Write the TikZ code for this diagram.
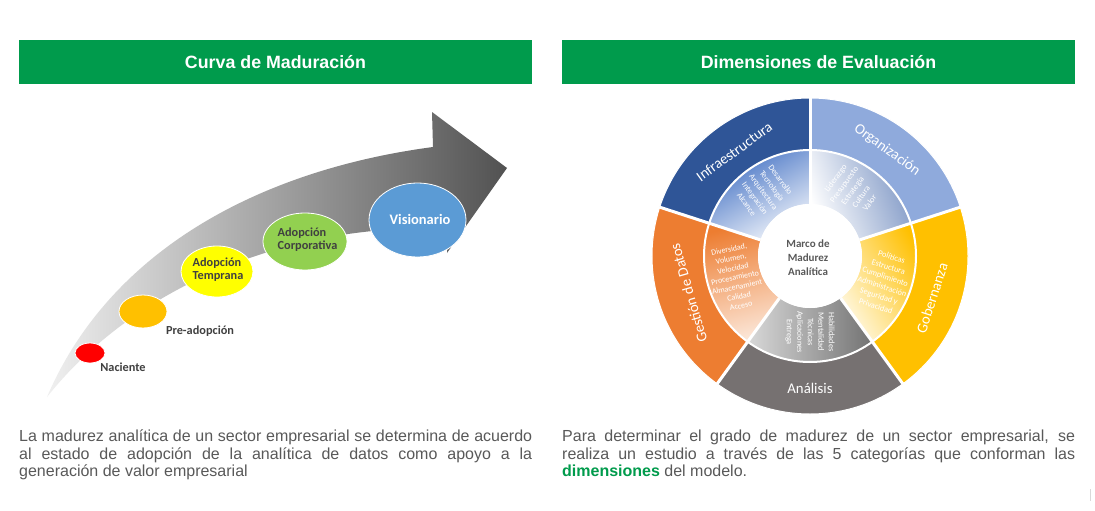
\documentclass[tikz,border=0pt]{standalone}
\usepackage{fontspec}
\setmainfont{Liberation Sans}
\newfontfamily\calibri{Carlito}
\usetikzlibrary{shapes.geometric}
\definecolor{hdrgreen}{RGB}{0,155,76}
\definecolor{txtgray}{RGB}{89,89,89}
\definecolor{lbldark}{RGB}{64,64,64}
\definecolor{infraC}{RGB}{47,85,151}
\definecolor{orgC}{RGB}{143,170,220}
\definecolor{gobC}{RGB}{255,192,0}
\definecolor{anaC}{RGB}{118,113,113}
\definecolor{gesC}{RGB}{237,125,49}
\definecolor{infraI}{RGB}{68,114,196}
\definecolor{redC}{RGB}{255,0,0}
\definecolor{yelC}{RGB}{255,255,0}
\definecolor{grnC}{RGB}{146,208,80}
\definecolor{bluC}{RGB}{91,155,213}
\tikzset{
 hdr/.style={fill=hdrgreen, text=white, font=\bfseries\fontsize{17.8}{20}\selectfont, minimum width=513, minimum height=44, inner sep=0},
 para/.style={anchor=north west, text width=513pt, align=justify, inner sep=0, text=txtgray, font=\fontsize{16}{17.5}\selectfont},
 ell/.style={ellipse, draw=white, line width=0.8pt, inner sep=0},
 stagelbl/.style={font=\calibri\bfseries\fontsize{12.3}{13}\selectfont, text=lbldark, inner sep=0, align=left},
 outerlbl/.style={font=\calibri\fontsize{14.8}{16}\selectfont, text=white, inner sep=0},
 innerlbl/.style={font=\calibri\fontsize{8.3}{10.5}\selectfont, text=white, inner sep=0, align=center},
 centerlbl/.style={font=\calibri\bfseries\fontsize{11}{14}\selectfont, text=txtgray, align=center, inner sep=0},
}
\begin{document}
\begin{tikzpicture}[x=1pt,y=1pt]
\useasboundingbox (0,0) rectangle (1095,-511);
\fill[white] (0,0) rectangle (1095,-511);

% headers
\node[hdr] (h1) at (275.5,-62) {Curva de Maduración};
\node[hdr] (h2) at (818.5,-62) {Dimensiones de Evaluación};

% curved arrow
\shade[left color=black!6, right color=black!68]
  (47,-397) .. controls (110,-250) and (260,-170) .. (433,-147)
  -- (432,-112) -- (507,-168) -- (447,-253) -- (449,-229)
  .. controls (300,-222) and (140,-280) .. (47,-397) -- cycle;

% stages
\node[ell, fill=redC, minimum width=30, minimum height=20] (eNac) at (90,-353) {};
\node[ell, fill=gobC, minimum width=48, minimum height=33] (ePre) at (143,-311.5) {};
\node[ell, fill=yelC, minimum width=72, minimum height=51] (eTem) at (217,-271.5) {};
\node[ell, fill=grnC, minimum width=84, minimum height=57] (eCor) at (305,-241.5) {};
\node[ell, fill=bluC, minimum width=97, minimum height=74] (eVis) at (417.5,-220) {};
\node[stagelbl] (tNac) at (123,-367) {Naciente};
\node[stagelbl] (tPre) at (200,-331) {Pre-adopción};
\node[stagelbl] (tTem) at (218,-269.5) {Adopción\\Temprana};
\node[stagelbl] (tCor) at (307.5,-240) {Adopción\\Corporativa};
\node[stagelbl, text=white, font=\calibri\bfseries\fontsize{14.5}{16}\selectfont] (tVis) at (420,-219) {Visionario};

% wheel
\begin{scope}[shift={(810,-256)}]
 \foreach \a/\c in {18/orgC, 90/infraC, 162/gesC, 234/anaC, 306/gobC}{
   \pgfmathsetmacro\b{\a+72}
   \fill[\c] (\a:158) arc[start angle=\a, end angle=\b, radius=158] -- (\b:106) arc[start angle=\b, end angle=\a, radius=106] -- cycle;
 }
 % inner ring with gradients
 \shade[top color=orgC!90!black, bottom color=white, shading angle=-70]
   (18:106) arc[start angle=18, end angle=90, radius=106] -- (90:52) arc[start angle=90, end angle=18, radius=52] -- cycle;
 \shade[top color=infraI, bottom color=infraI!8, shading angle=30]
   (90:106) arc[start angle=90, end angle=162, radius=106] -- (162:52) arc[start angle=162, end angle=90, radius=52] -- cycle;
 \shade[top color=gesC, bottom color=gesC!20, shading angle=15]
   (162:106) arc[start angle=162, end angle=234, radius=106] -- (234:52) arc[start angle=234, end angle=162, radius=52] -- cycle;
 \shade[top color=black!55, bottom color=black!15, shading angle=-90]
   (234:106) arc[start angle=234, end angle=306, radius=106] -- (306:52) arc[start angle=306, end angle=234, radius=52] -- cycle;
 \shade[top color=gobC, bottom color=gobC!12, shading angle=-60]
   (306:106) arc[start angle=306, end angle=378, radius=106] -- (378:52) arc[start angle=378, end angle=306, radius=52] -- cycle;
 % separators
 \foreach \a in {18,90,162,234,306}{
   \draw[white, line width=3] (\a:52) -- (\a:158);
 }
 \draw[white, line width=2] (0,0) circle[radius=106];
 \draw[white, line width=1] (0,0) circle[radius=158];
 \fill[white] (0,0) circle[radius=52];

 % outer labels
 \node[outerlbl, rotate=36] (lInfra) at (126:129) {Infraestructura};
 \node[outerlbl, rotate=-36] (lOrg) at (54:131) {Organización};
 \node[outerlbl, rotate=72] (lGob) at (-19:129) {Gobernanza};
 \node[outerlbl, rotate=106] (lGes) at (197:127) {Gestión de Datos};
 \node[outerlbl] (lAna) at (270:132) {Análisis};

 % inner labels
 \node[innerlbl, rotate=-54] (iInfra) at (126:79) {Desarrollo\\Tecnología\\Arquitectura\\Integración\\Alcance};
 \node[innerlbl, rotate=54] (iOrg) at (57:78) {Liderazgo\\Presupuesto\\Estrategia\\Cultura\\Valor};
 \node[innerlbl, rotate=-18, font=\calibri\fontsize{8.3}{10.3}\selectfont] (iGob) at (-19:78) {Políticas\\Estructura\\Cumplimiento\\Administración\\Seguridad y\\Privacidad};
 \node[innerlbl, rotate=12, font=\calibri\fontsize{8}{9.6}\selectfont] (iGes) at (196:78) {Diversidad,\\Volumen,\\Velocidad\\Procesamiento\\Almacenamient\\Calidad\\Acceso};
 \node[innerlbl, rotate=-90] (iAna) at (270:76) {Habilidades\\Mentalidad\\Técnicas\\Aplicaciones\\Entrega};

 \node[centerlbl] (mc) at (-2,-2) {Marco de\\Madurez\\Analítica};
\end{scope}

% paragraphs
\node[para] (p1) at (19,-430) {La madurez analítica de un sector empresarial se determina de acuerdo\linebreak al estado de adopción de la analítica de datos como apoyo a la\linebreak generación de valor empresarial};
\node[para] (p2) at (562,-430) {Para determinar el grado de madurez de un sector empresarial, se\linebreak realiza un estudio a través de las 5 categorías que conforman las\linebreak {\color{hdrgreen}\bfseries dimensiones} del modelo.};

\draw[black!15, line width=0.8] (1090,-489) -- (1090,-501);
\end{tikzpicture}
\end{document}
